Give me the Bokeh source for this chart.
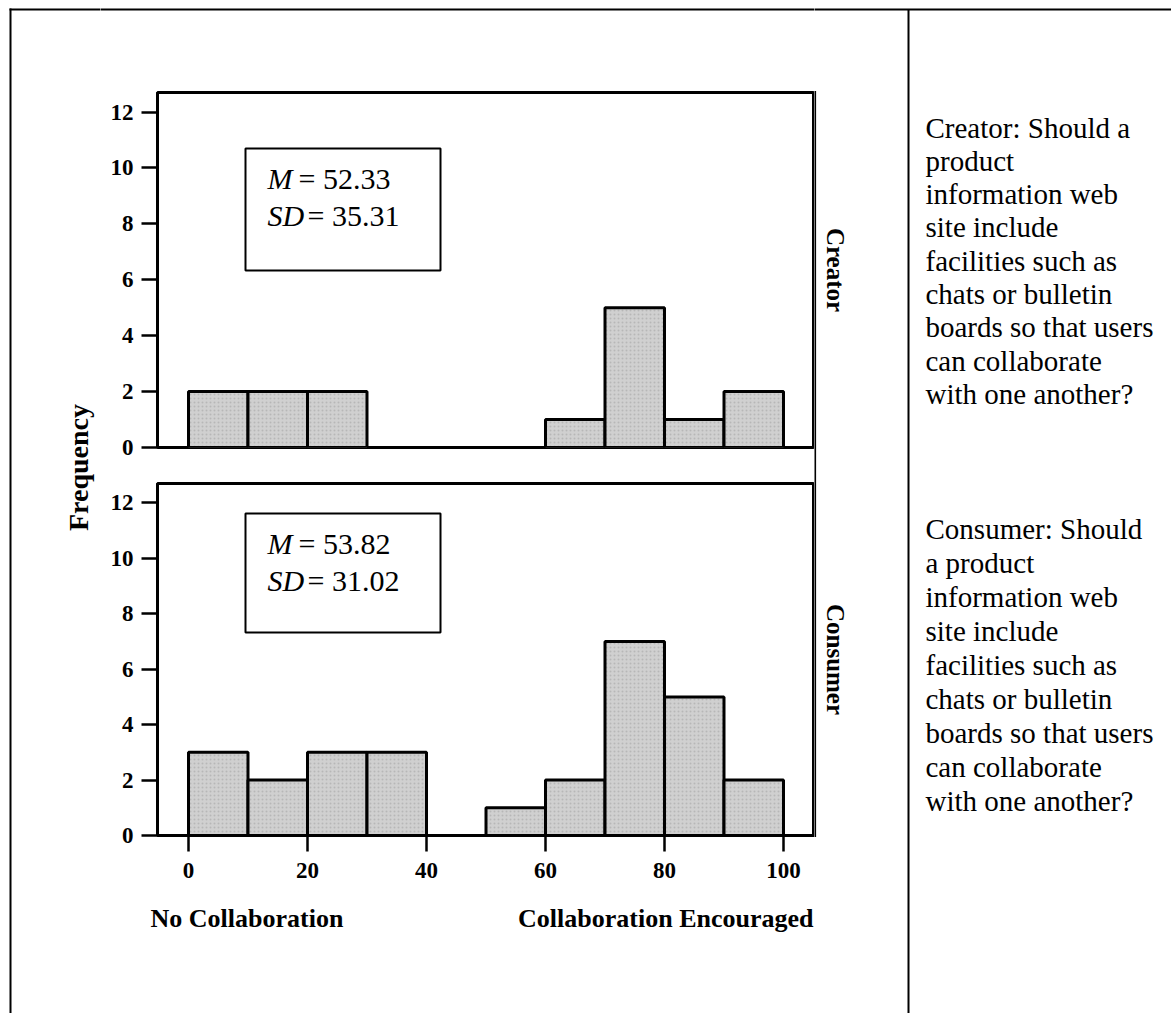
import math
from bokeh.plotting import figure
from bokeh.models import Range1d, FixedTicker, Label, BoxAnnotation
from bokeh.layouts import row, column
from bokeh.embed import file_html
from bokeh.resources import INLINE

# ---------------- data ----------------
bin_starts = [0, 10, 20, 30, 40, 50, 60, 70, 80, 90]
bin_width = 10
creator_counts = [2, 2, 2, 0, 0, 0, 1, 5, 1, 2]
consumer_counts = [3, 2, 3, 3, 0, 1, 2, 7, 5, 2]
creator_stats = ["52.33", "35.31"]      # mean, SD
consumer_stats = ["53.82", "31.02"]
x_ticks = [0, 20, 40, 60, 80, 100]
y_ticks = [0, 2, 4, 6, 8, 10, 12]
panel_names = ["Creator", "Consumer"]
y_title = "Frequency"
x_title_low = "No Collaboration"
x_title_high = "Collaboration Encouraged"
creator_question = ["Creator: Should a", "product", "information web", "site include",
                    "facilities such as", "chats or bulletin", "boards so that users",
                    "can collaborate", "with one another?"]
consumer_question = ["Consumer: Should", "a product", "information web", "site include",
                     "facilities such as", "chats or bulletin", "boards so that users",
                     "can collaborate", "with one another?"]

# ---------------- page geometry (pixels) ----------------
PAGE_W, PAGE_H = 1171, 1013
HEAD_H, FOOT_Y = 88, 895            # header band height, footer band top
LEFT_W = 100
FRAME_L, FRAME_R = 157, 814
MID_W = FRAME_R - LEFT_W
RIGHT_W = PAGE_W - FRAME_R
SPLIT_Y = 465                       # boundary between the two panel canvases
TOP_FRAME = (92, 447)
BOT_FRAME = (483, 835)
TOP_BOX = (148, 270)                # statistics boxes (page y)
BOT_BOX = (513, 632)
BOX_X = (245, 440)
X0_PX, X100_PX = 188, 783
PX_PER_X = (X100_PX - X0_PX) / 100.0
X_START = (FRAME_L - X0_PX) / PX_PER_X
X_END = (FRAME_R - X0_PX) / PX_PER_X
Y_END = 12.7
OUTER_X, OUTER_Y, DIVIDER_X = 10, 9, 908

SERIF = "Liberation Serif"
BAR_FILL = "#d0d0d0"


def canvas_box(p, left, right, top, bottom, color="black"):
    p.add_layout(BoxAnnotation(left=left, right=right, top=top, bottom=bottom,
                               left_units="canvas", right_units="canvas",
                               top_units="canvas", bottom_units="canvas",
                               fill_color=color, fill_alpha=1.0,
                               line_color=None, level="overlay"))


def hline(p, x0, x1, y, w=2):
    canvas_box(p, x0, x1, y - w / 2, y + w / 2)


def vline(p, x, y0, y1, w=2):
    canvas_box(p, x - w / 2, x + w / 2, y0, y1)


def label(p, x, y, s, size, style="normal", angle=0.0, align="left"):
    p.add_layout(Label(x=x, y=y, x_units="canvas", y_units="canvas", text=s,
                       text_font=SERIF, text_font_size=f"{size}px",
                       text_font_style=style, text_color="black", angle=angle,
                       text_align=align, text_baseline="middle"))


def blank(width, height):
    p = figure(width=width, height=height, x_range=(0, 1), y_range=(0, 1),
               x_axis_location=None, y_axis_location=None, min_border=0,
               toolbar_location=None, output_backend="svg",
               outline_line_color=None, background_fill_color="white",
               border_fill_color="white", frame_align=False)
    p.xgrid.visible = False
    p.ygrid.visible = False
    return p


def style_axis(ax, ticks, standoff):
    ax.ticker = FixedTicker(ticks=ticks)
    ax.major_label_text_font = SERIF
    ax.major_label_text_font_style = "bold"
    ax.major_label_text_font_size = "23px"
    ax.major_label_text_color = "black"
    ax.major_tick_out = 16
    ax.major_tick_in = 0
    ax.major_tick_line_width = 2.5
    ax.minor_tick_line_color = None
    ax.axis_line_width = 3
    ax.major_label_standoff = standoff


def panel(canvas_top, canvas_bottom, frame, box, counts, stats, with_x_axis):
    height = canvas_bottom - canvas_top
    p = figure(width=MID_W, height=height,
               x_range=Range1d(X_START, X_END), y_range=Range1d(0, Y_END),
               x_axis_location="below" if with_x_axis else None,
               toolbar_location=None, output_backend="svg",
               min_border_left=FRAME_L - LEFT_W, min_border_right=0,
               min_border_top=frame[0] - canvas_top,
               min_border_bottom=canvas_bottom - frame[1],
               outline_line_color="black", outline_line_width=3,
               background_fill_color="white", border_fill_color="white",
               frame_align=False)
    p.xgrid.visible = False
    p.ygrid.visible = False
    style_axis(p.yaxis[0], y_ticks, 8)
    if with_x_axis:
        style_axis(p.xaxis[0], x_ticks, 11)

    keep = [c > 0 for c in counts]
    lefts = [b for b, k in zip(bin_starts, keep) if k]
    rights = [b + bin_width for b, k in zip(bin_starts, keep) if k]
    tops = [c for c, k in zip(counts, keep) if k]
    p.quad(left=lefts, right=rights, bottom=0, top=tops,
           fill_color=BAR_FILL, line_color="black", line_width=3,
           hatch_pattern="dot", hatch_color="#8a8a8a", hatch_alpha=0.35,
           hatch_scale=4)

    # statistics box with italic symbols
    bl, br = BOX_X[0] - LEFT_W, BOX_X[1] - LEFT_W
    bt, bb = box[0] - canvas_top, box[1] - canvas_top
    p.add_layout(BoxAnnotation(left=bl, right=br, top=bt, bottom=bb,
                               left_units="canvas", right_units="canvas",
                               top_units="canvas", bottom_units="canvas",
                               fill_color="white", fill_alpha=1.0,
                               line_color="black", line_alpha=1.0, line_width=2,
                               level="underlay"))
    label(p, bl + 22, bt + 30, "M", 30, style="italic")
    label(p, bl + 53, bt + 30, "= " + stats[0], 30)
    label(p, bl + 22, bt + 67, "SD", 30, style="italic")
    label(p, bl + 62, bt + 67, "= " + stats[1], 30)
    return p


top = panel(HEAD_H, SPLIT_Y, TOP_FRAME, TOP_BOX, creator_counts, creator_stats, False)
bot = panel(SPLIT_Y, FOOT_Y, BOT_FRAME, BOT_BOX, consumer_counts, consumer_stats, True)

# band above the panels: top edge of the outer frame
head = blank(MID_W, HEAD_H)
hline(head, -2, MID_W + 2, OUTER_Y)

# band below the panels: x titles
foot = blank(MID_W, PAGE_H - FOOT_Y)
label(foot, 150 - LEFT_W, 918 - FOOT_Y, x_title_low, 26, style="bold")
label(foot, 813 - LEFT_W, 918 - FOOT_Y, x_title_high, 26, style="bold", align="right")

# left strip: outer frame corner and the y title
left = blank(LEFT_W, PAGE_H)
vline(left, OUTER_X, OUTER_Y - 1, PAGE_H + 3)
hline(left, OUTER_X - 1, LEFT_W + 2, OUTER_Y)
label(left, 78, 467, y_title, 28, style="bold", angle=math.pi / 2, align="center")

# right strip: panel border, strip titles, divider and questions
right = blank(RIGHT_W, PAGE_H)
hline(right, -2, RIGHT_W + 2, OUTER_Y)
canvas_box(right, -1, 1.6, TOP_FRAME[0] - 1.5, BOT_FRAME[1] + 1.5)
label(right, 835 - FRAME_R, (TOP_FRAME[0] + TOP_FRAME[1]) / 2, panel_names[0], 25,
      style="bold", angle=-math.pi / 2, align="center")
label(right, 835 - FRAME_R, (BOT_FRAME[0] + BOT_FRAME[1]) / 2, panel_names[1], 25,
      style="bold", angle=-math.pi / 2, align="center")
vline(right, DIVIDER_X - FRAME_R, OUTER_Y, PAGE_H + 3)
text_x = 925 - FRAME_R
for i, line in enumerate(creator_question):
    label(right, text_x, 127 + i * 33.3, line, 29)
for i, line in enumerate(consumer_question):
    label(right, text_x, 528 + i * 34.0, line, 29)

layout = row(left, column(head, top, bot, foot), right)

with open("out.html", "w") as f:
    f.write(file_html(layout, INLINE))
